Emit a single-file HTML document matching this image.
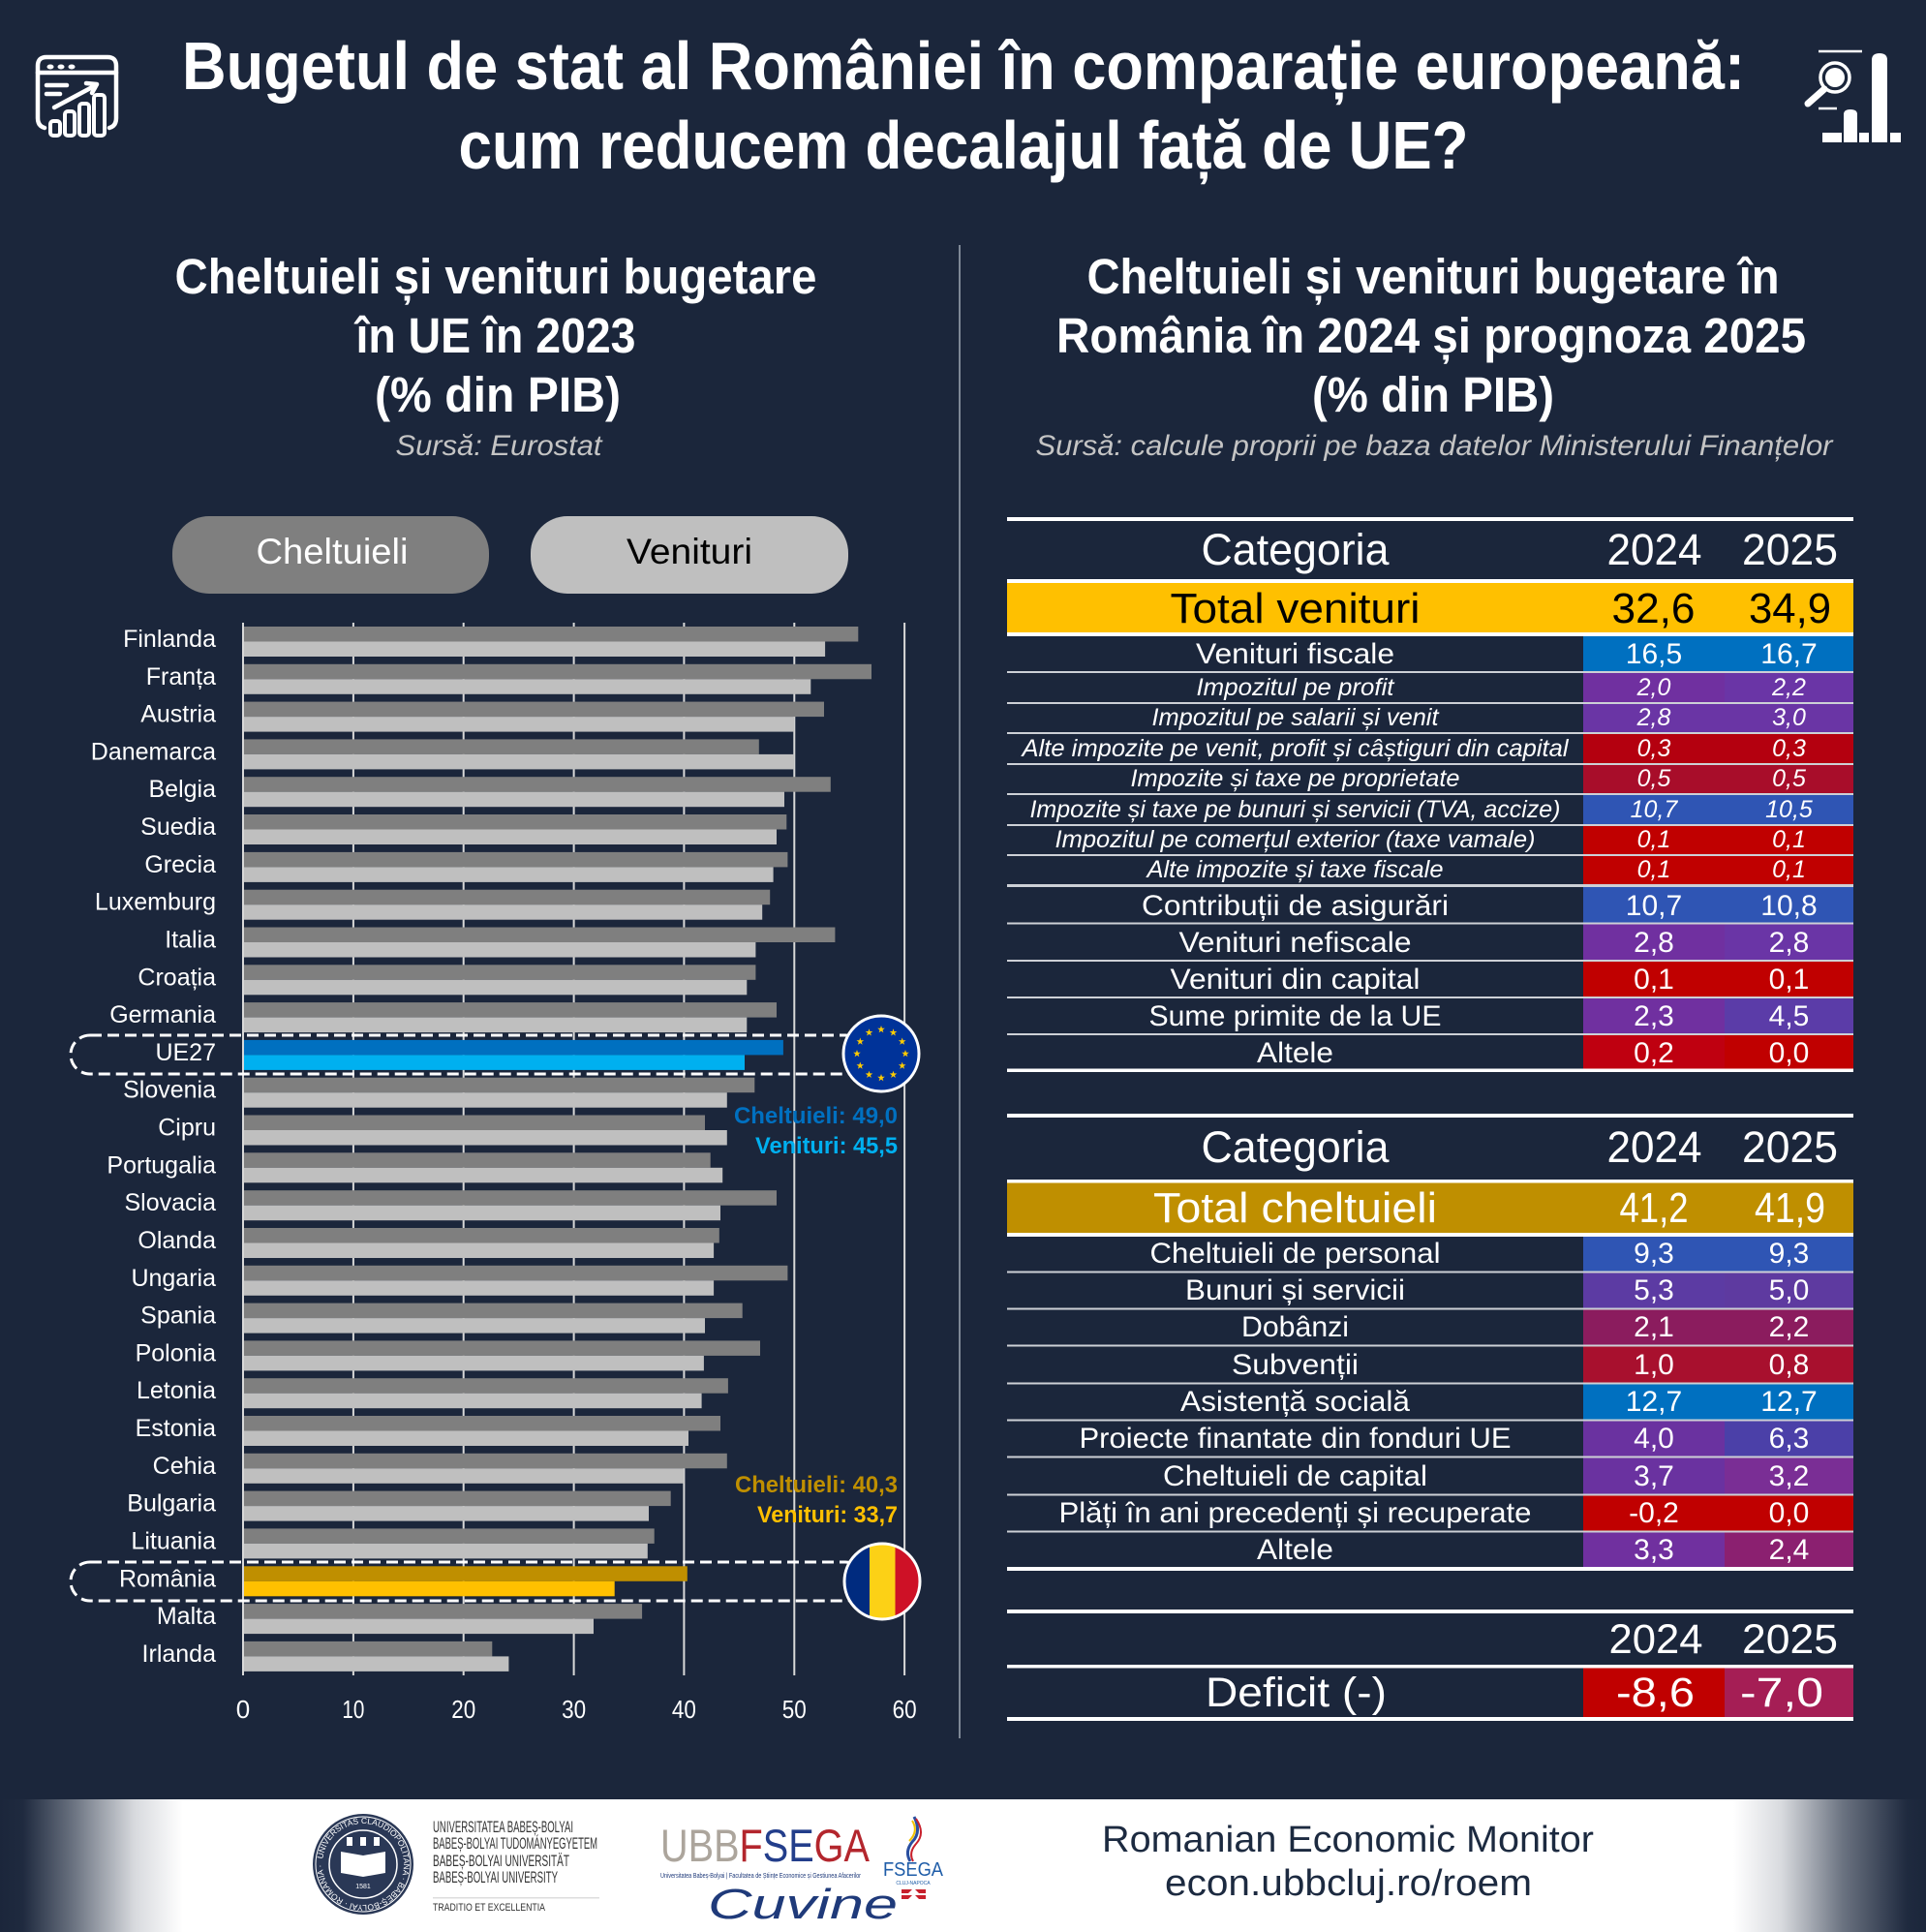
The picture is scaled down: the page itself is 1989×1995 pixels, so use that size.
<!DOCTYPE html>
<html><head><meta charset="utf-8"><title>Bugetul de stat al României</title>
<style>html,body{margin:0;padding:0;background:#1b263b;}svg{display:block;}text{font-family:"Liberation Sans",sans-serif;}</style></head>
<body>
<svg xmlns="http://www.w3.org/2000/svg" width="1989" height="1995" viewBox="0 0 1989 1995">
<defs>
<linearGradient id="fg" gradientUnits="userSpaceOnUse" x1="0" y1="0" x2="1989" y2="0">
<stop offset="0" stop-color="#1b263b"/><stop offset="0.012" stop-color="#1f2a3f"/><stop offset="0.038" stop-color="#6a7280"/><stop offset="0.07" stop-color="#d8dade"/><stop offset="0.095" stop-color="#ffffff"/>
<stop offset="0.9" stop-color="#ffffff"/><stop offset="0.925" stop-color="#d8dade"/><stop offset="0.957" stop-color="#6a7280"/><stop offset="0.99" stop-color="#1f2a3f"/><stop offset="1" stop-color="#1b263b"/>
</linearGradient>
<path id="star" d="M0,-4 L0.94,-1.29 L3.8,-1.24 L1.52,0.49 L2.35,3.24 L0,1.6 L-2.35,3.24 L-1.52,0.49 L-3.8,-1.24 L-0.94,-1.29 Z" fill="#ffcc00"/>
<clipPath id="roc"><circle cx="911" cy="1633" r="39"/></clipPath>
<path id="sealArc" d="M333,1925 A42,42 0 1,1 417,1925 A42,42 0 1,1 333,1925"/>
</defs>
<rect width="1989" height="1995" fill="#1b263b"/>

<!-- header icons -->
<g stroke="#fff" stroke-width="4.5" fill="none" stroke-linecap="round" stroke-linejoin="round">
<path d="M46 132 Q39 130 39 122 V68 Q39 59 48 59 H111 Q120 59 120 68 V122 Q120 130 113 132"/>
<line x1="39" y1="75" x2="120" y2="75"/>
<line x1="48" y1="88" x2="69" y2="88"/>
<line x1="48" y1="97" x2="62" y2="97"/>
<line x1="56" y1="111" x2="99" y2="88"/>
<path d="M89 86 L100 87 L95 96"/>
</g>
<g fill="#fff"><ellipse cx="52" cy="69" rx="3.5" ry="2.5"/><ellipse cx="63" cy="69" rx="3.5" ry="2.5"/><ellipse cx="74" cy="69" rx="3.5" ry="2.5"/></g>
<g fill="#1b263b" stroke="#fff" stroke-width="4">
<rect x="52" y="125" width="10" height="15" rx="3"/><rect x="67" y="115" width="10" height="25" rx="3"/><rect x="82" y="107" width="10" height="33" rx="3"/><rect x="97" y="98" width="11" height="42" rx="3"/>
</g>
<line x1="1878" y1="53" x2="1923" y2="53" stroke="#fff" stroke-width="2.5"/>
<circle cx="1895" cy="80" r="15" fill="none" stroke="#fff" stroke-width="3.5"/>
<circle cx="1895" cy="80" r="10" fill="#fff"/>
<line x1="1884" y1="92" x2="1867" y2="107" stroke="#fff" stroke-width="7" stroke-linecap="round"/>
<line x1="1878" y1="112" x2="1897" y2="112" stroke="#fff" stroke-width="2.5"/>
<g fill="#fff">
<path d="M1933 147 V62 Q1933 55 1941 55 Q1949 55 1949 62 V147 Z"/>
<path d="M1904 147 V118 Q1904 113 1911 113 Q1918 113 1918 118 V147 Z"/>
<rect x="1882" y="137" width="20" height="10"/><rect x="1920" y="137" width="10" height="10"/><rect x="1952" y="137" width="11" height="10"/>
</g>

<!-- title -->
<text x="995" y="92" text-anchor="middle" font-size="70" font-weight="bold" fill="#fff" textLength="1614" lengthAdjust="spacingAndGlyphs">Bugetul de stat al României în comparație europeană:</text>
<text x="995" y="174" text-anchor="middle" font-size="70" font-weight="bold" fill="#fff" textLength="1043" lengthAdjust="spacingAndGlyphs">cum reducem decalajul față de UE?</text>

<!-- divider -->
<line x1="991" y1="253" x2="991" y2="1795" stroke="#a0a8b4" stroke-width="1.5"/>

<!-- left subtitle -->
<g fill="#fff" font-weight="bold" font-size="51" text-anchor="middle">
<text x="512" y="303" textLength="663" lengthAdjust="spacingAndGlyphs">Cheltuieli și venituri bugetare</text>
<text x="512" y="364" textLength="289" lengthAdjust="spacingAndGlyphs">în UE în 2023</text>
<text x="514" y="425" textLength="254" lengthAdjust="spacingAndGlyphs">(% din PIB)</text>
<text x="1480" y="303" textLength="715" lengthAdjust="spacingAndGlyphs">Cheltuieli și venituri bugetare în</text>
<text x="1478" y="364" textLength="774" lengthAdjust="spacingAndGlyphs">România în 2024 și prognoza 2025</text>
<text x="1480" y="425" textLength="250" lengthAdjust="spacingAndGlyphs">(% din PIB)</text>
</g>
<g fill="#c4c4c4" font-style="italic" font-size="30" text-anchor="middle">
<text x="515" y="470" textLength="213" lengthAdjust="spacingAndGlyphs">Sursă: Eurostat</text>
<text x="1481" y="470" textLength="823" lengthAdjust="spacingAndGlyphs">Sursă: calcule proprii pe baza datelor Ministerului Finanțelor</text>
</g>

<!-- buttons -->
<rect x="178" y="533" width="327" height="80" rx="38" fill="#7f7f7f"/>
<text x="343" y="582" text-anchor="middle" font-size="37" fill="#fff" textLength="157" lengthAdjust="spacingAndGlyphs">Cheltuieli</text>
<rect x="548" y="533" width="328" height="80" rx="38" fill="#bfbfbf"/>
<text x="712" y="582" text-anchor="middle" font-size="37" fill="#000" textLength="130" lengthAdjust="spacingAndGlyphs">Venituri</text>

<!-- gridlines -->
<g stroke="#d9d9d9" stroke-width="2">
<line x1="251" y1="643" x2="251" y2="1730"/><line x1="364.9" y1="643" x2="364.9" y2="1730"/><line x1="478.7" y1="643" x2="478.7" y2="1730"/><line x1="592.6" y1="643" x2="592.6" y2="1730"/><line x1="706.4" y1="643" x2="706.4" y2="1730"/><line x1="820.3" y1="643" x2="820.3" y2="1730"/><line x1="934.1" y1="643" x2="934.1" y2="1730"/>
</g>

<!-- bars: dark (cheltuieli) then light (venituri) -->
<g>
<rect x="252" y="647.0" width="634.3" height="15.5" fill="#7f7f7f"/><rect x="252" y="662.5" width="600.1" height="15.5" fill="#bfbfbf"/>
<rect x="252" y="685.8" width="648.0" height="15.5" fill="#7f7f7f"/><rect x="252" y="701.3" width="585.3" height="15.5" fill="#bfbfbf"/>
<rect x="252" y="724.6" width="599.0" height="15.5" fill="#7f7f7f"/><rect x="252" y="740.1" width="568.3" height="15.5" fill="#bfbfbf"/>
<rect x="252" y="763.4" width="531.8" height="15.5" fill="#7f7f7f"/><rect x="252" y="778.9" width="568.3" height="15.5" fill="#bfbfbf"/>
<rect x="252" y="802.2" width="605.8" height="15.5" fill="#7f7f7f"/><rect x="252" y="817.7" width="558.0" height="15.5" fill="#bfbfbf"/>
<rect x="252" y="841.0" width="560.3" height="15.5" fill="#7f7f7f"/><rect x="252" y="856.5" width="550.0" height="15.5" fill="#bfbfbf"/>
<rect x="252" y="879.9" width="561.4" height="15.5" fill="#7f7f7f"/><rect x="252" y="895.4" width="546.6" height="15.5" fill="#bfbfbf"/>
<rect x="252" y="918.7" width="543.2" height="15.5" fill="#7f7f7f"/><rect x="252" y="934.2" width="535.2" height="15.5" fill="#bfbfbf"/>
<rect x="252" y="957.5" width="610.4" height="15.5" fill="#7f7f7f"/><rect x="252" y="973.0" width="528.4" height="15.5" fill="#bfbfbf"/>
<rect x="252" y="996.3" width="528.4" height="15.5" fill="#7f7f7f"/><rect x="252" y="1011.8" width="519.3" height="15.5" fill="#bfbfbf"/>
<rect x="252" y="1035.1" width="550.0" height="15.5" fill="#7f7f7f"/><rect x="252" y="1050.6" width="519.3" height="15.5" fill="#bfbfbf"/>
<rect x="252" y="1073.9" width="556.9" height="15.5" fill="#0070c0"/><rect x="252" y="1089.4" width="517.0" height="15.5" fill="#00b0f0"/>
<rect x="252" y="1112.7" width="527.3" height="15.5" fill="#7f7f7f"/><rect x="252" y="1128.2" width="498.8" height="15.5" fill="#bfbfbf"/>
<rect x="252" y="1151.5" width="476.0" height="15.5" fill="#7f7f7f"/><rect x="252" y="1167.0" width="498.8" height="15.5" fill="#bfbfbf"/>
<rect x="252" y="1190.3" width="481.7" height="15.5" fill="#7f7f7f"/><rect x="252" y="1205.8" width="494.2" height="15.5" fill="#bfbfbf"/>
<rect x="252" y="1229.2" width="550.0" height="15.5" fill="#7f7f7f"/><rect x="252" y="1244.7" width="492.0" height="15.5" fill="#bfbfbf"/>
<rect x="252" y="1268.0" width="490.8" height="15.5" fill="#7f7f7f"/><rect x="252" y="1283.5" width="485.1" height="15.5" fill="#bfbfbf"/>
<rect x="252" y="1306.8" width="561.4" height="15.5" fill="#7f7f7f"/><rect x="252" y="1322.3" width="485.1" height="15.5" fill="#bfbfbf"/>
<rect x="252" y="1345.6" width="514.7" height="15.5" fill="#7f7f7f"/><rect x="252" y="1361.1" width="476.0" height="15.5" fill="#bfbfbf"/>
<rect x="252" y="1384.4" width="533.0" height="15.5" fill="#7f7f7f"/><rect x="252" y="1399.9" width="474.9" height="15.5" fill="#bfbfbf"/>
<rect x="252" y="1423.2" width="499.9" height="15.5" fill="#7f7f7f"/><rect x="252" y="1438.7" width="472.6" height="15.5" fill="#bfbfbf"/>
<rect x="252" y="1462.0" width="492.0" height="15.5" fill="#7f7f7f"/><rect x="252" y="1477.5" width="459.0" height="15.5" fill="#bfbfbf"/>
<rect x="252" y="1500.8" width="498.8" height="15.5" fill="#7f7f7f"/><rect x="252" y="1516.3" width="454.4" height="15.5" fill="#bfbfbf"/>
<rect x="252" y="1539.6" width="440.7" height="15.5" fill="#7f7f7f"/><rect x="252" y="1555.1" width="418.0" height="15.5" fill="#bfbfbf"/>
<rect x="252" y="1578.4" width="423.7" height="15.5" fill="#7f7f7f"/><rect x="252" y="1593.9" width="416.8" height="15.5" fill="#bfbfbf"/>
<rect x="252" y="1617.3" width="457.8" height="15.5" fill="#bf8f00"/><rect x="252" y="1632.8" width="382.7" height="15.5" fill="#ffc000"/>
<rect x="252" y="1656.1" width="411.1" height="15.5" fill="#7f7f7f"/><rect x="252" y="1671.6" width="361.0" height="15.5" fill="#bfbfbf"/>
<rect x="252" y="1694.9" width="256.3" height="15.5" fill="#7f7f7f"/><rect x="252" y="1710.4" width="273.4" height="15.5" fill="#bfbfbf"/>
</g>

<!-- country labels -->
<g fill="#fff" font-size="25" text-anchor="end">
<text x="223" y="668.0">Finlanda</text><text x="223" y="706.8">Franța</text><text x="223" y="745.6">Austria</text><text x="223" y="784.4">Danemarca</text><text x="223" y="823.2">Belgia</text><text x="223" y="862.0">Suedia</text><text x="223" y="900.9">Grecia</text><text x="223" y="939.7">Luxemburg</text><text x="223" y="978.5">Italia</text><text x="223" y="1017.3">Croația</text><text x="223" y="1056.1">Germania</text><text x="223" y="1094.9">UE27</text><text x="223" y="1133.7">Slovenia</text><text x="223" y="1172.5">Cipru</text><text x="223" y="1211.3">Portugalia</text><text x="223" y="1250.2">Slovacia</text><text x="223" y="1289.0">Olanda</text><text x="223" y="1327.8">Ungaria</text><text x="223" y="1366.6">Spania</text><text x="223" y="1405.4">Polonia</text><text x="223" y="1444.2">Letonia</text><text x="223" y="1483.0">Estonia</text><text x="223" y="1521.8">Cehia</text><text x="223" y="1560.6">Bulgaria</text><text x="223" y="1599.4">Lituania</text><text x="223" y="1638.3">România</text><text x="223" y="1677.1">Malta</text><text x="223" y="1715.9">Irlanda</text>
</g>

<!-- tick labels -->
<g fill="#fff" font-size="26" text-anchor="middle">
<text x="251" y="1774">0</text><text x="364.9" y="1774" textLength="23" lengthAdjust="spacingAndGlyphs">10</text><text x="478.7" y="1774" textLength="25" lengthAdjust="spacingAndGlyphs">20</text><text x="592.6" y="1774" textLength="25" lengthAdjust="spacingAndGlyphs">30</text><text x="706.4" y="1774" textLength="25" lengthAdjust="spacingAndGlyphs">40</text><text x="820.3" y="1774" textLength="25" lengthAdjust="spacingAndGlyphs">50</text><text x="934.1" y="1774" textLength="25" lengthAdjust="spacingAndGlyphs">60</text>
</g>

<!-- highlight boxes -->
<rect x="73" y="1069" width="820" height="40" rx="20" fill="none" stroke="#fff" stroke-width="3" stroke-dasharray="12 6"/>
<rect x="73" y="1613" width="820" height="40" rx="20" fill="none" stroke="#fff" stroke-width="3" stroke-dasharray="12 6"/>

<!-- EU flag -->
<circle cx="910" cy="1088" r="39" fill="#003399" stroke="#fff" stroke-width="3"/>
<use href="#star" x="910" y="1063"/><use href="#star" x="922.5" y="1066.3"/><use href="#star" x="931.7" y="1075.5"/><use href="#star" x="935" y="1088"/><use href="#star" x="931.7" y="1100.5"/><use href="#star" x="922.5" y="1109.7"/><use href="#star" x="910" y="1113"/><use href="#star" x="897.5" y="1109.7"/><use href="#star" x="888.3" y="1100.5"/><use href="#star" x="885" y="1088"/><use href="#star" x="888.3" y="1075.5"/><use href="#star" x="897.5" y="1066.3"/>

<!-- Romania flag -->
<g clip-path="url(#roc)">
<rect x="870" y="1590" width="28" height="90" fill="#002b7f"/><rect x="898" y="1590" width="26.5" height="90" fill="#fcd116"/><rect x="924.5" y="1590" width="30" height="90" fill="#ce1126"/>
</g>
<circle cx="911" cy="1633" r="39" fill="none" stroke="#fff" stroke-width="3"/>

<!-- annotations -->
<g font-size="24" font-weight="bold" text-anchor="end">
<text x="927" y="1160" fill="#0070c0" textLength="169" lengthAdjust="spacingAndGlyphs">Cheltuieli: 49,0</text>
<text x="927" y="1191" fill="#00b0f0" textLength="147" lengthAdjust="spacingAndGlyphs">Venituri: 45,5</text>
<text x="927" y="1541" fill="#bf8f00" textLength="168" lengthAdjust="spacingAndGlyphs">Cheltuieli: 40,3</text>
<text x="927" y="1572" fill="#ffc000" textLength="145" lengthAdjust="spacingAndGlyphs">Venituri: 33,7</text>
</g>

<!-- ===== TABLE 1 ===== -->
<rect x="1040" y="602" width="874" height="51" fill="#ffc000"/>
<g>
<rect x="1635" y="657" width="146" height="37" fill="#0070c0"/><rect x="1781" y="657" width="133" height="37" fill="#0070c0"/>
<rect x="1635" y="694" width="146" height="32" fill="#7030a0"/><rect x="1781" y="694" width="133" height="32" fill="#6a35a6"/>
<rect x="1635" y="726" width="146" height="31" fill="#6a35a5"/><rect x="1781" y="726" width="133" height="31" fill="#6a35a5"/>
<rect x="1635" y="757" width="146" height="32" fill="#b4000f"/><rect x="1781" y="757" width="133" height="32" fill="#b4000f"/>
<rect x="1635" y="789" width="146" height="31" fill="#a80d2a"/><rect x="1781" y="789" width="133" height="31" fill="#a80d2a"/>
<rect x="1635" y="820" width="146" height="32" fill="#2f55b4"/><rect x="1781" y="820" width="133" height="32" fill="#2f55b4"/>
<rect x="1635" y="852" width="146" height="31" fill="#c00000"/><rect x="1781" y="852" width="133" height="31" fill="#c00000"/>
<rect x="1635" y="883" width="146" height="31" fill="#c00000"/><rect x="1781" y="883" width="133" height="31" fill="#c00000"/>
<rect x="1635" y="914" width="146" height="40" fill="#2f55b4"/><rect x="1781" y="914" width="133" height="40" fill="#2f55b4"/>
<rect x="1635" y="954" width="146" height="38" fill="#7030a0"/><rect x="1781" y="954" width="133" height="38" fill="#6a35a6"/>
<rect x="1635" y="992" width="146" height="38" fill="#c00000"/><rect x="1781" y="992" width="133" height="38" fill="#c00000"/>
<rect x="1635" y="1030" width="146" height="38" fill="#7030a0"/><rect x="1781" y="1030" width="133" height="38" fill="#5b3ca8"/>
<rect x="1635" y="1068" width="146" height="37" fill="#bf0010"/><rect x="1781" y="1068" width="133" height="37" fill="#c00000"/>
</g>
<g fill="#fff">
<rect x="1040" y="534" width="874" height="4"/>
<rect x="1040" y="598" width="874" height="4"/>
<rect x="1040" y="653" width="874" height="4"/>
<rect x="1040" y="1103.5" width="874" height="3.5"/>
</g>
<g fill="#cdd0d6">
<rect x="1040" y="693" width="874" height="2"/><rect x="1040" y="725" width="874" height="2"/><rect x="1040" y="756" width="874" height="2"/><rect x="1040" y="788" width="874" height="2"/><rect x="1040" y="819" width="874" height="2"/><rect x="1040" y="851" width="874" height="2"/><rect x="1040" y="882" width="874" height="2"/><rect x="1040" y="913" width="874" height="3"/><rect x="1040" y="952.5" width="874" height="2"/><rect x="1040" y="991" width="874" height="2"/><rect x="1040" y="1029" width="874" height="2"/><rect x="1040" y="1067" width="874" height="2"/>
</g>
<g text-anchor="middle" fill="#fff">
<text x="1337.5" y="583" font-size="45" textLength="194" lengthAdjust="spacingAndGlyphs">Categoria</text>
<text x="1708.5" y="583" font-size="45" textLength="98" lengthAdjust="spacingAndGlyphs">2024</text>
<text x="1848.5" y="583" font-size="45" textLength="99" lengthAdjust="spacingAndGlyphs">2025</text>
<text x="1337.5" y="643" font-size="44" fill="#000" textLength="258" lengthAdjust="spacingAndGlyphs">Total venituri</text>
<text x="1707.5" y="643" font-size="44" fill="#000" textLength="86" lengthAdjust="spacingAndGlyphs">32,6</text>
<text x="1848.5" y="643" font-size="44" fill="#000" textLength="85" lengthAdjust="spacingAndGlyphs">34,9</text>
</g>
<g text-anchor="middle" fill="#fff" font-size="30">
<text x="1337.5" y="685" textLength="205" lengthAdjust="spacingAndGlyphs">Venituri fiscale</text>
<text x="1708" y="685">16,5</text><text x="1847.5" y="685">16,7</text>
<text x="1337.5" y="945" textLength="317" lengthAdjust="spacingAndGlyphs">Contribuții de asigurări</text>
<text x="1708" y="945">10,7</text><text x="1847.5" y="945">10,8</text>
<text x="1337.5" y="983" textLength="240" lengthAdjust="spacingAndGlyphs">Venituri nefiscale</text>
<text x="1708" y="983">2,8</text><text x="1847.5" y="983">2,8</text>
<text x="1337.5" y="1021" textLength="258" lengthAdjust="spacingAndGlyphs">Venituri din capital</text>
<text x="1708" y="1021">0,1</text><text x="1847.5" y="1021">0,1</text>
<text x="1337.5" y="1059" textLength="302" lengthAdjust="spacingAndGlyphs">Sume primite de la UE</text>
<text x="1708" y="1059">2,3</text><text x="1847.5" y="1059">4,5</text>
<text x="1337.5" y="1097" textLength="79" lengthAdjust="spacingAndGlyphs">Altele</text>
<text x="1708" y="1097">0,2</text><text x="1847.5" y="1097">0,0</text>
</g>
<g text-anchor="middle" fill="#fff" font-size="25" font-style="italic">
<text x="1337.5" y="718" textLength="204" lengthAdjust="spacingAndGlyphs">Impozitul pe profit</text>
<text x="1708" y="718">2,0</text><text x="1847.5" y="718">2,2</text>
<text x="1337.5" y="749" textLength="296" lengthAdjust="spacingAndGlyphs">Impozitul pe salarii și venit</text>
<text x="1708" y="749">2,8</text><text x="1847.5" y="749">3,0</text>
<text x="1337.5" y="781" textLength="564" lengthAdjust="spacingAndGlyphs">Alte impozite pe venit, profit și câștiguri din capital</text>
<text x="1708" y="781">0,3</text><text x="1847.5" y="781">0,3</text>
<text x="1337.5" y="812" textLength="340" lengthAdjust="spacingAndGlyphs">Impozite și taxe pe proprietate</text>
<text x="1708" y="812">0,5</text><text x="1847.5" y="812">0,5</text>
<text x="1337.5" y="844" textLength="548" lengthAdjust="spacingAndGlyphs">Impozite și taxe pe bunuri și servicii (TVA, accize)</text>
<text x="1708" y="844">10,7</text><text x="1847.5" y="844">10,5</text>
<text x="1337.5" y="875" textLength="496" lengthAdjust="spacingAndGlyphs">Impozitul pe comerțul exterior (taxe vamale)</text>
<text x="1708" y="875">0,1</text><text x="1847.5" y="875">0,1</text>
<text x="1337.5" y="906" textLength="306" lengthAdjust="spacingAndGlyphs">Alte impozite și taxe fiscale</text>
<text x="1708" y="906">0,1</text><text x="1847.5" y="906">0,1</text>
</g>

<!-- ===== TABLE 2 ===== -->
<rect x="1040" y="1221" width="874" height="52" fill="#bf8f00"/>
<g>
<rect x="1635" y="1277" width="146" height="37" fill="#2f55b4"/><rect x="1781" y="1277" width="133" height="37" fill="#2f55b4"/>
<rect x="1635" y="1314" width="146" height="38" fill="#5c3ba3"/><rect x="1781" y="1314" width="133" height="38" fill="#5e3aa0"/>
<rect x="1635" y="1352" width="146" height="38" fill="#8b1c5e"/><rect x="1781" y="1352" width="133" height="38" fill="#8b1c5e"/>
<rect x="1635" y="1390" width="146" height="39" fill="#a8102e"/><rect x="1781" y="1390" width="133" height="39" fill="#a8102e"/>
<rect x="1635" y="1429" width="146" height="38" fill="#0070c0"/><rect x="1781" y="1429" width="133" height="38" fill="#0070c0"/>
<rect x="1635" y="1467" width="146" height="38" fill="#6a32a0"/><rect x="1781" y="1467" width="133" height="38" fill="#4b40a8"/>
<rect x="1635" y="1505" width="146" height="39" fill="#6a32a0"/><rect x="1781" y="1505" width="133" height="39" fill="#7a2e95"/>
<rect x="1635" y="1544" width="146" height="38" fill="#c00000"/><rect x="1781" y="1544" width="133" height="38" fill="#c00000"/>
<rect x="1635" y="1582" width="146" height="37" fill="#70309f"/><rect x="1781" y="1582" width="133" height="37" fill="#8b2070"/>
</g>
<g fill="#fff">
<rect x="1040" y="1150" width="874" height="4"/>
<rect x="1040" y="1218" width="874" height="3.5"/>
<rect x="1040" y="1273" width="874" height="4"/>
<rect x="1040" y="1618" width="874" height="4"/>
</g>
<g fill="#cdd0d6">
<rect x="1040" y="1312.5" width="874" height="2"/><rect x="1040" y="1350.5" width="874" height="2"/><rect x="1040" y="1388.5" width="874" height="2"/><rect x="1040" y="1427.5" width="874" height="2"/><rect x="1040" y="1465.5" width="874" height="2"/><rect x="1040" y="1503.5" width="874" height="2"/><rect x="1040" y="1542.5" width="874" height="2"/><rect x="1040" y="1580.5" width="874" height="2"/>
</g>
<g text-anchor="middle" fill="#fff">
<text x="1337.5" y="1200" font-size="45" textLength="194" lengthAdjust="spacingAndGlyphs">Categoria</text>
<text x="1708.5" y="1200" font-size="45" textLength="98" lengthAdjust="spacingAndGlyphs">2024</text>
<text x="1848.5" y="1200" font-size="45" textLength="99" lengthAdjust="spacingAndGlyphs">2025</text>
<text x="1337.5" y="1262" font-size="44" textLength="293" lengthAdjust="spacingAndGlyphs">Total cheltuieli</text>
<text x="1708" y="1262" font-size="44" textLength="71" lengthAdjust="spacingAndGlyphs">41,2</text>
<text x="1848.5" y="1262" font-size="44" textLength="73" lengthAdjust="spacingAndGlyphs">41,9</text>
</g>
<g text-anchor="middle" fill="#fff" font-size="30">
<text x="1337.5" y="1304" textLength="300" lengthAdjust="spacingAndGlyphs">Cheltuieli de personal</text>
<text x="1708" y="1304">9,3</text><text x="1847.5" y="1304">9,3</text>
<text x="1337.5" y="1342" textLength="227" lengthAdjust="spacingAndGlyphs">Bunuri și servicii</text>
<text x="1708" y="1342">5,3</text><text x="1847.5" y="1342">5,0</text>
<text x="1337.5" y="1380" textLength="111" lengthAdjust="spacingAndGlyphs">Dobânzi</text>
<text x="1708" y="1380">2,1</text><text x="1847.5" y="1380">2,2</text>
<text x="1337.5" y="1419" textLength="131" lengthAdjust="spacingAndGlyphs">Subvenții</text>
<text x="1708" y="1419">1,0</text><text x="1847.5" y="1419">0,8</text>
<text x="1337.5" y="1457" textLength="237" lengthAdjust="spacingAndGlyphs">Asistență socială</text>
<text x="1708" y="1457">12,7</text><text x="1847.5" y="1457">12,7</text>
<text x="1337.5" y="1495" textLength="446" lengthAdjust="spacingAndGlyphs">Proiecte finantate din fonduri UE</text>
<text x="1708" y="1495">4,0</text><text x="1847.5" y="1495">6,3</text>
<text x="1337.5" y="1534" textLength="273" lengthAdjust="spacingAndGlyphs">Cheltuieli de capital</text>
<text x="1708" y="1534">3,7</text><text x="1847.5" y="1534">3,2</text>
<text x="1337.5" y="1572" textLength="488" lengthAdjust="spacingAndGlyphs">Plăți în ani precedenți și recuperate</text>
<text x="1708" y="1572">-0,2</text><text x="1847.5" y="1572">0,0</text>
<text x="1337.5" y="1610" textLength="79" lengthAdjust="spacingAndGlyphs">Altele</text>
<text x="1708" y="1610">3,3</text><text x="1847.5" y="1610">2,4</text>
</g>

<!-- ===== DEFICIT ===== -->
<rect x="1635" y="1722" width="146" height="51" fill="#c00000"/><rect x="1781" y="1722" width="133" height="51" fill="#a51e55"/>
<g fill="#fff">
<rect x="1040" y="1662" width="874" height="4"/>
<rect x="1040" y="1719" width="874" height="3.5"/>
<rect x="1040" y="1773" width="874" height="4"/>
</g>
<g text-anchor="middle" fill="#fff" font-size="43">
<text x="1710" y="1707" textLength="97" lengthAdjust="spacingAndGlyphs">2024</text>
<text x="1848.5" y="1707" textLength="99" lengthAdjust="spacingAndGlyphs">2025</text>
<text x="1338.5" y="1762" textLength="187" lengthAdjust="spacingAndGlyphs">Deficit (-)</text>
<text x="1709.5" y="1762" textLength="81" lengthAdjust="spacingAndGlyphs">-8,6</text>
<text x="1840" y="1762" textLength="86" lengthAdjust="spacingAndGlyphs">-7,0</text>
</g>

<!-- ===== FOOTER ===== -->
<rect x="0" y="1858" width="1989" height="137" fill="url(#fg)"/>
<!-- seal -->
<circle cx="375" cy="1925" r="52" fill="#2a3856"/>
<circle cx="375" cy="1925" r="49" fill="none" stroke="#fff" stroke-width="1"/>
<circle cx="375" cy="1925" r="35" fill="none" stroke="#fff" stroke-width="1.5"/>
<text font-size="8.5" fill="#fff" font-family="Liberation Serif, serif"><textPath href="#sealArc" startOffset="2%">UNIVERSITAS CLAUDIOPOLITANA · BABEȘ-BOLYAI · ROMANIA ·</textPath></text>
<g fill="#fff">
<rect x="358" y="1897" width="6" height="9"/><rect x="372" y="1897" width="6" height="9"/><rect x="386" y="1897" width="6" height="9"/>
<path d="M352 1912 L375 1916 L398 1912 L398 1934 L375 1938 L352 1934 Z"/>
</g>
<text x="375" y="1950" font-size="7" fill="#fff" text-anchor="middle" font-family="Liberation Serif, serif">1581</text>
<g fill="#333" font-family="Liberation Serif, serif" font-size="17">
<text x="447" y="1892" textLength="145" lengthAdjust="spacingAndGlyphs">UNIVERSITATEA BABEȘ-BOLYAI</text>
<text x="447" y="1909" textLength="170" lengthAdjust="spacingAndGlyphs">BABEȘ-BOLYAI TUDOMÁNYEGYETEM</text>
<text x="447" y="1927" textLength="141" lengthAdjust="spacingAndGlyphs">BABEȘ-BOLYAI UNIVERSITÄT</text>
<text x="447" y="1944" textLength="129" lengthAdjust="spacingAndGlyphs">BABEȘ-BOLYAI UNIVERSITY</text>
</g>
<rect x="447" y="1959" width="172" height="1.5" fill="#dddddd"/>
<text x="447" y="1973" font-size="11" fill="#333" textLength="116" lengthAdjust="spacingAndGlyphs">TRADITIO ET EXCELLENTIA</text>
<!-- UBBFSEGA -->
<text x="682" y="1922" font-size="47" textLength="216" lengthAdjust="spacingAndGlyphs"><tspan fill="#aca59c">UBB</tspan><tspan fill="#b3262d">F</tspan><tspan fill="#233e8b">SE</tspan><tspan fill="#b3262d">GA</tspan></text>
<text x="682" y="1939" font-size="7" fill="#1f3a7a" textLength="207" lengthAdjust="spacingAndGlyphs">Universitatea Babeș-Bolyai | Facultatea de Științe Economice și Gestiunea Afacerilor</text>
<text x="731" y="1981" font-size="44" font-style="italic" fill="#1f3a7a" font-family="Liberation Serif, serif" textLength="196" lengthAdjust="spacingAndGlyphs">Cuvine</text>
<!-- FSEGA small logo -->
<path d="M944 1876 Q952 1892 942 1902 Q934 1912 940 1922" fill="none" stroke="#2a4fa0" stroke-width="3"/>
<path d="M946 1878 Q956 1893 946 1904 Q938 1913 943 1922" fill="none" stroke="#c8202c" stroke-width="2"/>
<path d="M942 1880 Q949 1891 939 1901" fill="none" stroke="#f2c200" stroke-width="2"/>
<text x="943" y="1937" font-size="20" fill="#1f5da8" text-anchor="middle" textLength="62" lengthAdjust="spacingAndGlyphs">FSEGA</text>
<text x="943" y="1946" font-size="5" fill="#1f5da8" text-anchor="middle">CLUJ-NAPOCA</text>
<path d="M931 1951 L942 1951 L938 1955 L931 1955 Z M931 1957 L942 1957 L938 1961 L931 1961 Z M945 1951 L956 1951 L956 1955 L949 1955 Z M945 1957 L956 1957 L956 1961 L949 1961 Z" fill="#c8202c"/>
<!-- ROEM -->
<text x="1392" y="1912" font-size="38" fill="#1c2a40" text-anchor="middle" textLength="508" lengthAdjust="spacingAndGlyphs">Romanian Economic Monitor</text>
<text x="1392.5" y="1957" font-size="38" fill="#1c2a40" text-anchor="middle" textLength="379" lengthAdjust="spacingAndGlyphs">econ.ubbcluj.ro/roem</text>
</svg>
</body></html>
